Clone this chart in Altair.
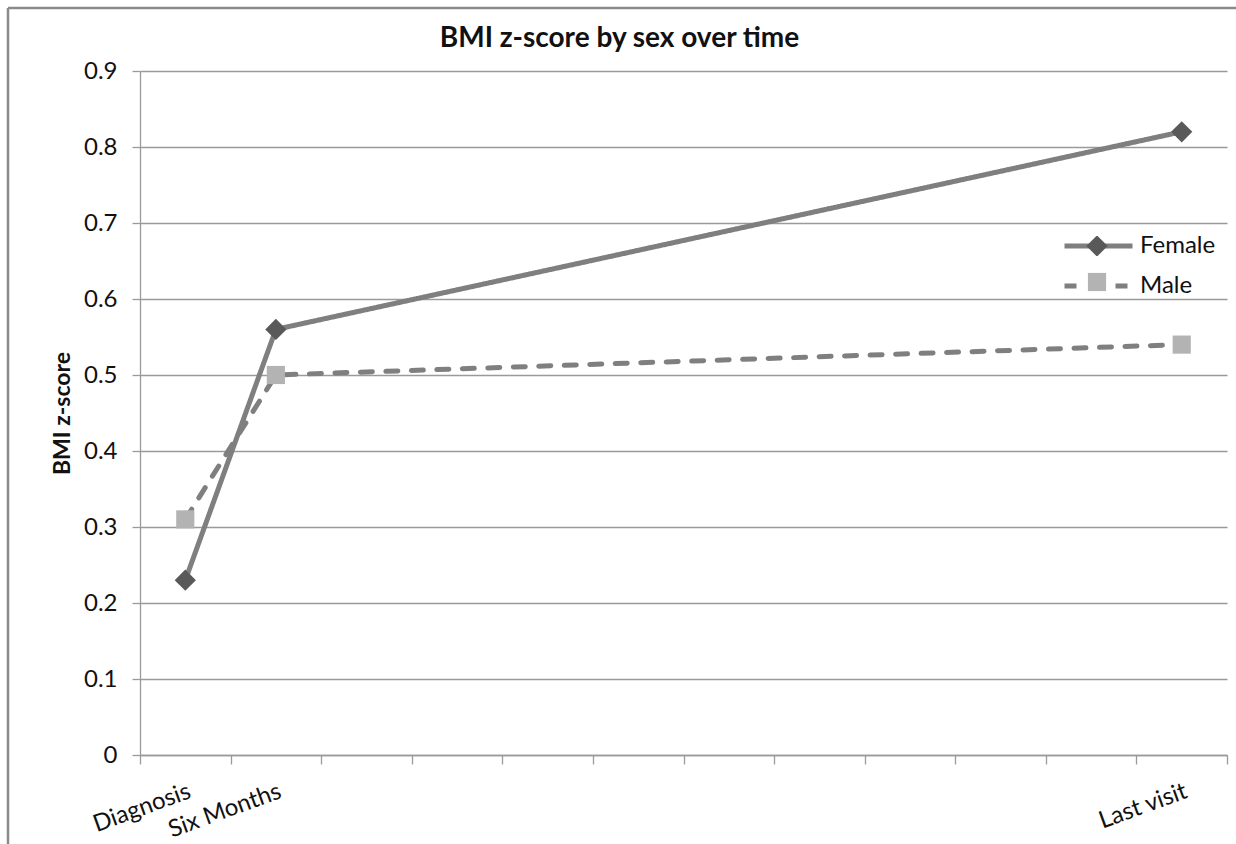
import altair as alt
import pandas as pd

# Visits shown on a 12-slot category axis
categories = ["Diagnosis", "Six Months", "Last visit"]
slots = [1, 2, 12]
n_slots = 12

# BMI z-score per visit
female = [0.23, 0.56, 0.82]
male = [0.31, 0.50, 0.54]
series = ["Female", "Male"]

y_ticks = [0, 0.1, 0.2, 0.3, 0.4, 0.5, 0.6, 0.7, 0.8, 0.9]

rows = []
# Male rows first so the solid Female line is drawn on top
for name, vals in (("Male", male), ("Female", female)):
    for cat, slot, v in zip(categories, slots, vals):
        rows.append({"sex": name, "visit": cat, "slot": slot, "z": v})
df = pd.DataFrame(rows)

FONT = "Lato"
GRID = "#9a9a9a"
TEXT = "#111111"

W, H = 1087, 684
PAD = {"left": 140, "top": 71, "right": 9, "bottom": 89}

# tick marks sit on the slot boundaries, labels on the slot centres
boundaries = [i + 0.5 for i in range(n_slots + 1)]
label_expr = " : ".join(
    f"datum.value == {s} ? '{c}'" for s, c in zip(slots, categories)
) + " : ''"

x_enc = alt.X(
    "slot:Q",
    scale=alt.Scale(domain=[0.5, n_slots + 0.5], nice=False, zero=False),
    axis=alt.Axis(
        values=boundaries + slots,
        labelExpr=label_expr,
        grid=False,
        domainColor=GRID,
        domainWidth=1.3,
        tickColor=GRID,
        tickWidth=1.3,
        tickSize=9,
        tickOpacity={"condition": {"test": "datum.value % 1 == 0", "value": 0}, "value": 1},
        labelAngle=340,
        labelAlign="right",
        labelBaseline="top",
        labelPadding=15,
        labelFont=FONT,
        labelFontSize=24,
        labelColor=TEXT,
        labelOverlap=False,
        labelFlush=False,
        title=None,
    ),
)

y_enc = alt.Y(
    "z:Q",
    scale=alt.Scale(domain=[0, 0.9], nice=False),
    axis=alt.Axis(
        values=y_ticks,
        format=".1~f",
        grid=True,
        gridColor=GRID,
        gridWidth=1.3,
        domainColor=GRID,
        domainWidth=1.3,
        tickColor=GRID,
        tickWidth=1.3,
        tickSize=8,
        labelPadding=15,
        labelFont=FONT,
        labelFontSize=24,
        labelColor=TEXT,
        title="BMI z-score",
        titleFont=FONT,
        titleFontSize=23,
        titleFontWeight="bold",
        titleColor=TEXT,
        titleX=-78,
        titleY=H / 2,
        titleBaseline="middle",
        titleAngle=270,
    ),
)

line_legend = alt.Legend(
    title=None,
    orient="none",
    legendX=922,
    legendY=165,
    symbolType="stroke",
    symbolSize=68 * 68,
    symbolStrokeWidth=5,
    clipHeight=20,
    rowPadding=16,
    padding=0,
    labelOffset=5,
    labelFont=FONT,
    labelFontSize=24,
    labelColor=TEXT,
)

marker_legend = alt.Legend(
    title=None,
    orient="none",
    legendX=946,
    legendY=165,
    symbolStrokeWidth=0,
    clipHeight=20,
    rowPadding=16,
    padding=0,
    labelExpr="''",
    labelFontSize=1,
)

lines = alt.Chart(df).mark_line(strokeWidth=5, strokeCap="round").encode(
    x=x_enc,
    y=y_enc,
    stroke=alt.Stroke(
        "sex:N",
        scale=alt.Scale(domain=series, range=["#7f7f7f", "#7f7f7f"]),
        legend=line_legend,
    ),
    strokeDash=alt.StrokeDash(
        "sex:N",
        scale=alt.Scale(domain=series, range=[[1, 0], [12, 13.5]]),
        legend=line_legend,
    ),
)

# marker scales take their domain from the data so they keep a legend of their own
points = (
    alt.Chart(df)
    .transform_calculate(marker="datum.sex")
    .mark_point(filled=True, opacity=1, strokeWidth=0)
    .encode(
        x=x_enc,
        y=y_enc,
        shape=alt.Shape(
            "marker:N",
            scale=alt.Scale(range=["diamond", "square"]),
            legend=marker_legend,
        ),
        fill=alt.Fill(
            "marker:N",
            scale=alt.Scale(range=["#595959", "#b3b3b3"]),
            legend=marker_legend,
        ),
        size=alt.Size(
            "marker:N",
            scale=alt.Scale(range=[450, 330]),
            legend=marker_legend,
        ),
    )
)

# outer frame of the chart (left and top edges)
frame_src = pd.DataFrame({"k": [0]})
frame_left = alt.Chart(frame_src).mark_rule(color="#8a8a8a", strokeWidth=2.5).encode(
    x=alt.value(8 - PAD["left"]),
    y=alt.value(8 - PAD["top"]),
    y2=alt.value(844 - PAD["top"]),
)
frame_top = alt.Chart(frame_src).mark_rule(color="#8a8a8a", strokeWidth=2.5).encode(
    x=alt.value(8 - PAD["left"]),
    x2=alt.value(1236 - PAD["left"]),
    y=alt.value(8 - PAD["top"]),
)

chart = (
    alt.layer(frame_left, frame_top, lines, points)
    .properties(
        width=W,
        height=H,
        padding=PAD,
        autosize=alt.AutoSizeParams(type="none"),
        background="white",
        title=alt.TitleParams(
            "BMI z-score by sex over time",
            font=FONT,
            fontSize=28,
            fontWeight="bold",
            color=TEXT,
            anchor="middle",
            baseline="alphabetic",
            dx=-64,
            offset=-68,
        ),
    )
    .configure_view(stroke=None)
)

chart.save("out.html", embed_options={"renderer": "svg", "actions": False})
